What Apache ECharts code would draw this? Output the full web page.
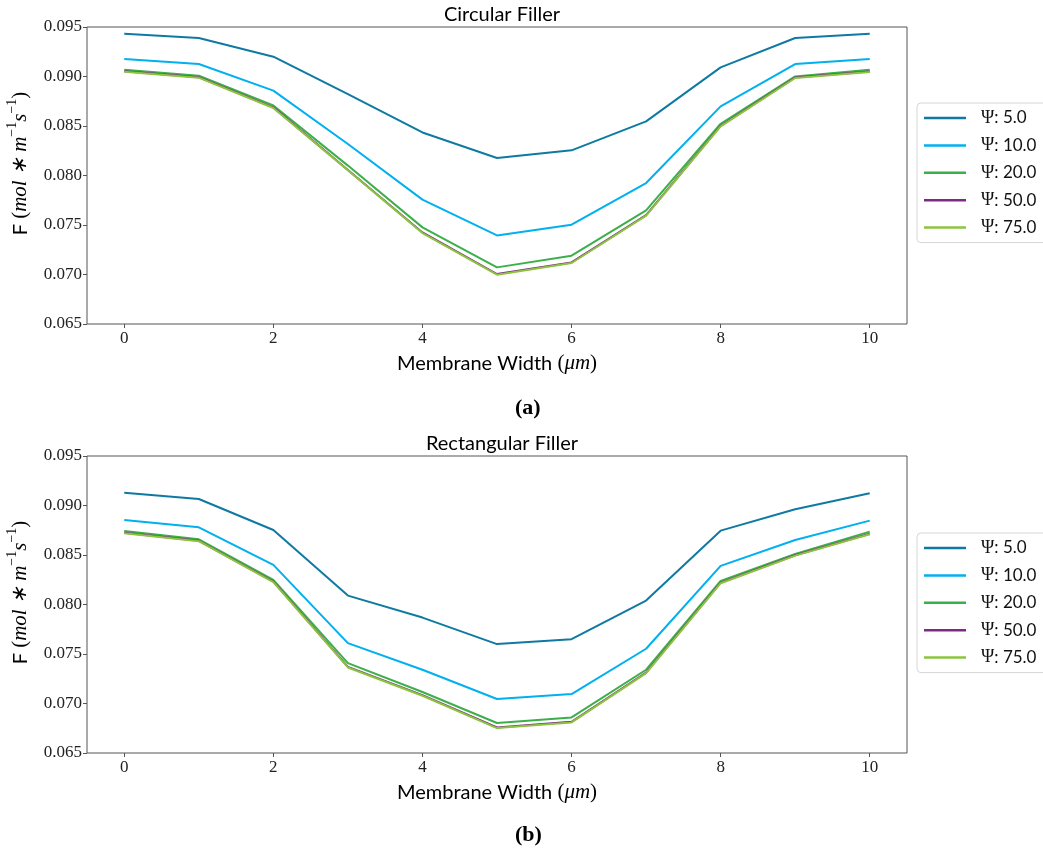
<!DOCTYPE html>
<html>
<head>
<meta charset="utf-8">
<script src="https://cdn.jsdelivr.net/npm/echarts@6/dist/echarts.min.js"></script>
<style>
html, body { margin: 0; padding: 0; background: #fff; }
#main { width: 1043px; height: 854px; }
</style>
</head>
<body>
<div id="main"></div>
<script>
// data
var xValues = [0, 1, 2, 3, 4, 5, 6, 7, 8, 9, 10];
var xTicks = [0, 2, 4, 6, 8, 10];
var psiValues = ['5.0', '10.0', '20.0', '50.0', '75.0'];
var colors = ['#0f7aa1', '#00b0ef', '#3bb04a', '#7d2a86', '#8cc43e'];

// circular filler
var circ5  = [0.09432, 0.09389, 0.09200, 0.08823, 0.08435, 0.08177, 0.08254, 0.08547, 0.09092, 0.09389, 0.09432];
var circ10 = [0.09177, 0.09126, 0.08857, 0.08318, 0.07756, 0.07395, 0.07503, 0.07924, 0.08698, 0.09126, 0.09177];
var circ20 = [0.09069, 0.09008, 0.08708, 0.08100, 0.07476, 0.07072, 0.07190, 0.07648, 0.08523, 0.09001, 0.09069];
var circ50 = [0.09053, 0.08992, 0.08688, 0.08056, 0.07425, 0.07004, 0.07122, 0.07600, 0.08501, 0.08990, 0.09050];
var circ75 = [0.09049, 0.08988, 0.08682, 0.08052, 0.07419, 0.06998, 0.07116, 0.07594, 0.08496, 0.08985, 0.09045];

// rectangular filler
var rect5  = [0.09130, 0.09066, 0.08753, 0.08090, 0.07868, 0.07600, 0.07650, 0.08040, 0.08746, 0.08962, 0.09124];
var rect10 = [0.08854, 0.08780, 0.08400, 0.07610, 0.07341, 0.07045, 0.07095, 0.07553, 0.08390, 0.08652, 0.08847];
var rect20 = [0.08743, 0.08659, 0.08249, 0.07408, 0.07116, 0.06803, 0.06859, 0.07341, 0.08239, 0.08511, 0.08736];
var rect50 = [0.08724, 0.08643, 0.08231, 0.07370, 0.07084, 0.06758, 0.06815, 0.07312, 0.08220, 0.08498, 0.08714];
var rect75 = [0.08720, 0.08639, 0.08226, 0.07364, 0.07078, 0.06752, 0.06809, 0.07307, 0.08215, 0.08494, 0.08710];

var yTicks = { min: 0.065, max: 0.095, interval: 0.005 };

var myChart = echarts.init(document.getElementById('main'), null, { renderer: 'canvas' });

var serif = 'Liberation Serif';
var sans = 'Lato';

function pairs(arr)
{
    var out = [];
    for (var i = 0; i < xValues.length; i++)
        out.push([xValues[i], arr[i]]);
    return out;
}

function make_grid(top)
{
    return {
        left: 87, top: top, width: 820, height: 297,
        containLabel: false, outerBoundsMode: 'none',
        show: true, borderColor: '#555', borderWidth: 1, backgroundColor: 'transparent'
    };
}

function make_x(idx)
{
    return {
        type: 'value', gridIndex: idx,
        min: -0.5, max: 10.5,
        name: '{t|Membrane Width }{r|(}{i|μm}{r|)}',
        nameLocation: 'middle', nameGap: 29,
        nameTextStyle: {
            rich: {
                t: { fontFamily: sans, fontSize: 20, color: '#000' },
                r: { fontFamily: serif, fontSize: 21, color: '#000' },
                i: { fontFamily: serif, fontSize: 21, fontStyle: 'italic', color: '#000' }
            }
        },
        splitLine: { show: false },
        axisLine: { show: false, onZero: false },
        axisTick: { show: true, length: 4, inside: false, customValues: xTicks, lineStyle: { color: '#555' } },
        axisLabel: { customValues: xTicks, fontFamily: serif, fontSize: 17, color: '#222', margin: 6 }
    };
}

function make_y(idx)
{
    return {
        type: 'value', gridIndex: idx,
        min: yTicks.min, max: yTicks.max, interval: yTicks.interval,
        name: '{s|F }{r|(}{i|mol ∗ m}{sup|−1}{i|s}{sup|−1}{r|)}',
        nameLocation: 'middle', nameGap: 56, nameRotate: 90,
        nameTextStyle: {
            padding: [0, 0, 0, 24],
            rich: {
                s: { fontFamily: sans, fontSize: 20, color: '#000', lineHeight: 26, verticalAlign: 'bottom' },
                r: { fontFamily: serif, fontSize: 21, color: '#000', lineHeight: 26, verticalAlign: 'bottom' },
                i: { fontFamily: serif, fontSize: 21, fontStyle: 'italic', color: '#000', lineHeight: 26, verticalAlign: 'bottom' },
                sup: { fontFamily: serif, fontSize: 14, color: '#000', lineHeight: 14, verticalAlign: 'top' }
            }
        },
        splitLine: { show: false },
        axisLine: { show: false, onZero: false },
        axisTick: { show: true, length: 4, inside: false, lineStyle: { color: '#555' } },
        axisLabel: {
            fontFamily: serif, fontSize: 17, color: '#222', margin: 5,
            formatter: function (v) { return v.toFixed(3); }
        }
    };
}

function make_legend(top)
{
    return {
        orient: 'vertical', left: 917, top: top,
        data: psiValues.map(function (p) { return 'Ψ: ' + p; }),
        icon: 'rect', itemWidth: 42, itemHeight: 2.5, itemGap: 9.4,
        padding: [6, 14, 6, 7],
        borderColor: '#d6d6d6', borderWidth: 1, borderRadius: 4,
        backgroundColor: '#fff',
        formatter: function (name) { return '{g|Ψ}{t|: ' + name.split(': ')[1] + '}'; },
        textStyle: {
            fontFamily: sans, fontSize: 17, color: '#111', lineHeight: 18,
            rich: {
                g: { fontFamily: serif, fontSize: 18, color: '#111', lineHeight: 18, padding: [0, 0, 0, 10] },
                t: { fontFamily: sans, fontSize: 17, color: '#111', lineHeight: 18 }
            }
        }
    };
}

function make_series(idx, sets)
{
    return sets.map(function (arr, k) {
        return {
            name: 'Ψ: ' + psiValues[k],
            type: 'line',
            xAxisIndex: idx, yAxisIndex: idx,
            showSymbol: false,
            animation: false,
            lineStyle: { width: 2, color: colors[k] },
            itemStyle: { color: colors[k] },
            data: pairs(arr)
        };
    });
}

option = {
    backgroundColor: '#fff',
    animation: false,
    color: colors,
    title: [
        { text: 'Circular Filler', left: 497, top: 0, textAlign: 'center',
          textStyle: { fontFamily: sans, fontSize: 20, fontWeight: 'normal', color: '#000' } },
        { text: 'Rectangular Filler', left: 497, top: 429, textAlign: 'center',
          textStyle: { fontFamily: sans, fontSize: 20, fontWeight: 'normal', color: '#000' } }
    ],
    grid: [make_grid(27), make_grid(456)],
    xAxis: [make_x(0), make_x(1)],
    yAxis: [make_y(0), make_y(1)],
    legend: [make_legend(103), make_legend(533)],
    graphic: [
        { type: 'text', left: 515, top: 397,
          style: { text: '(a)', font: 'bold 22px "Liberation Serif"', fill: '#000' } },
        { type: 'text', left: 515, top: 824,
          style: { text: '(b)', font: 'bold 22px "Liberation Serif"', fill: '#000' } }
    ],
    series: make_series(0, [circ5, circ10, circ20, circ50, circ75])
        .concat(make_series(1, [rect5, rect10, rect20, rect50, rect75]))
};

myChart.setOption(option);
</script>
</body>
</html>
